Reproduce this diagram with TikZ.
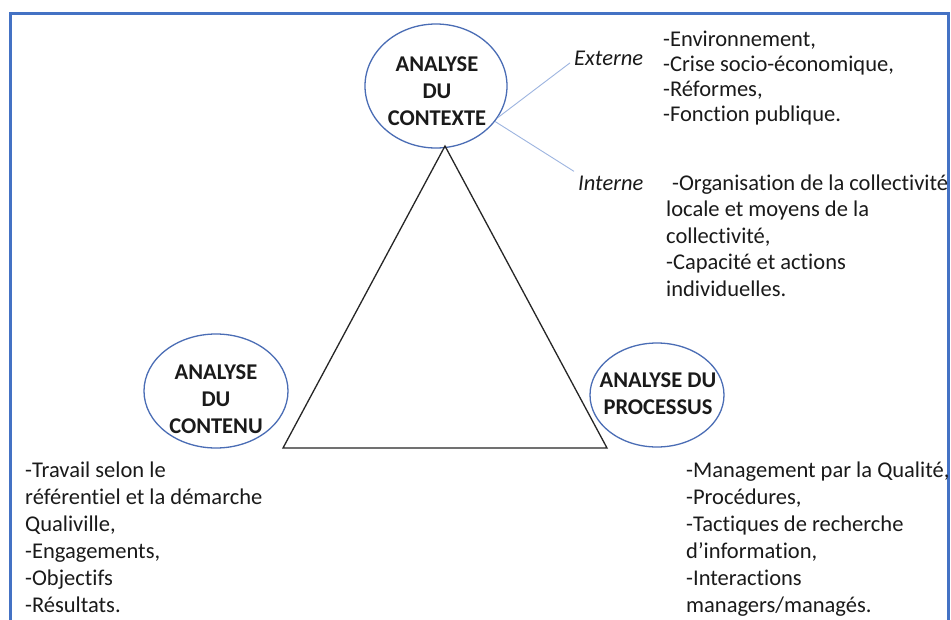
\documentclass[tikz,border=0pt]{standalone}
\usepackage{fontspec}
\setmainfont{Carlito}[Ligatures={NoCommon}]
\usetikzlibrary{shapes.geometric}
\definecolor{frameblue}{HTML}{4472C4}
\definecolor{ellblue}{HTML}{4A6DB5}
\definecolor{linkblue}{HTML}{9DB5E0}
\definecolor{tricol}{HTML}{262626}
\definecolor{txtcol}{HTML}{1A1A1A}
\begin{document}
\begin{tikzpicture}[x=1pt,y=-1pt,
  ell/.style={draw=ellblue, line width=1.3pt, ellipse, inner sep=0pt},
  lbl/.style={font=\fontsize{22.5}{27}\selectfont\bfseries, align=center, inner sep=0pt, text=txtcol},
  txt/.style={font=\fontsize{22.5}{27}\selectfont, align=left, anchor=north west, inner sep=0pt, text=txtcol},
  side/.style={font=\fontsize{22.5}{27}\selectfont\itshape, anchor=base west, inner sep=4pt, text=txtcol},
  link/.style={draw=linkblue, line width=0.9pt}]
\clip (0,0) rectangle (951,619);
\fill[white] (0,0) rectangle (951,619);
\draw[frameblue, line width=3pt] (10,13) rectangle (948,660);

% ellipses
\node[ell, minimum width=142pt, minimum height=124pt] (ctx) at (436,86) {};
\node[lbl] (ctxlbl) at (437,91.5) {ANALYSE\\DU\\CONTEXTE};
\node[ell, minimum width=144pt, minimum height=114pt] (cnt) at (216,391) {};
\node[lbl] (cntlbl) at (216,399) {ANALYSE\\DU\\CONTENU};
\node[ell, minimum width=134pt, minimum height=104pt] (prc) at (657,395) {};
\node[lbl] (prclbl) at (658,394) {ANALYSE DU\\PROCESSUS};

% triangle
\coordinate (apex) at (445,146);
\coordinate (bl) at (283,448);
\coordinate (br) at (607,448);
\draw[tricol, line width=1.3pt, line join=miter] (apex) -- (bl) -- (br) -- cycle;

% context side labels
\node[side] (ext) at (570,65) {Externe};
\node[side] (int) at (574,190) {Interne};
\draw[link] (ctx.-27) -- ([yshift=-5pt]ext.west);
\draw[link] (ctx.-31) -- (int.north west);

% text lists
\node[txt, font=\fontsize{22.5}{25}\selectfont] (extlist) at (663,28.5)
  {\strut-Environnement,\\-Crise socio-économique,\\-Réformes,\\-Fonction publique.};
\node[txt, font=\fontsize{22.5}{26.5}\selectfont] (intlist) at (666,171.5)
  {\strut\hspace*{6pt}-Organisation de la collectivité\\locale et moyens de la\\collectivité,\\-Capacité et actions\\individuelles.};
\node[txt] (cntlist) at (25,458)
  {\strut-Travail selon le\\référentiel et la démarche\\Qualiville,\\-Engagements,\\-Objectifs\\-Résultats.};
\node[txt] (prclist) at (686,458)
  {\strut-Management par la Qualité,\\-Procédures,\\-Tactiques de recherche\\d’information,\\-Interactions\\managers/managés.};
\end{tikzpicture}
\end{document}
